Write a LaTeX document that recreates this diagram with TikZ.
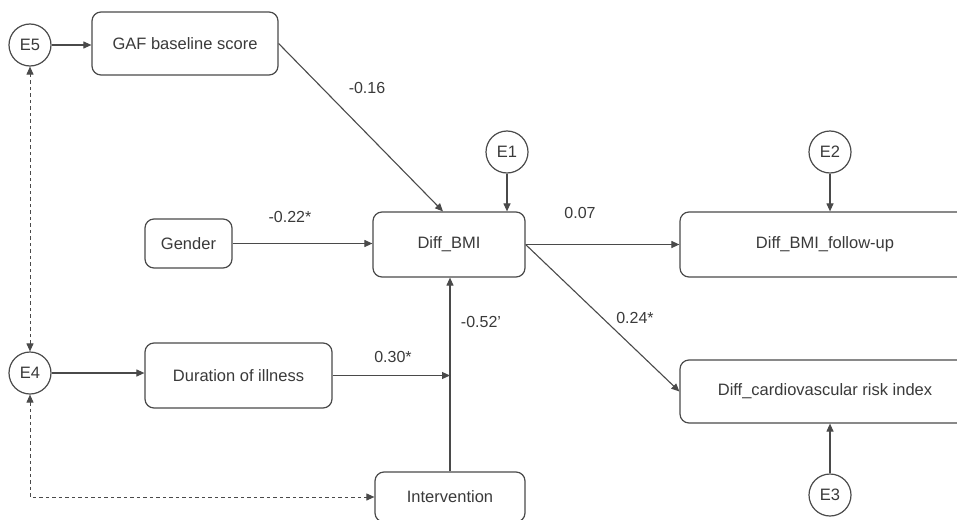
\documentclass[tikz,border=0pt]{standalone}
\usepackage{fontspec}
\setmainfont{Liberation Sans}
\usetikzlibrary{arrows.meta}
\definecolor{linec}{HTML}{4A4A4A}
\definecolor{textc}{HTML}{3A3A3A}
\begin{document}
\begin{tikzpicture}[x=1pt,y=-1pt,
  box/.style={draw=linec, line width=1.2pt, rounded corners=9pt, text=textc,
    font=\fontsize{16.5}{19}\selectfont, inner sep=0pt, anchor=center},
  err/.style={draw=linec, circle, line width=1.2pt, minimum size=42pt, inner sep=0pt,
    text=textc, font=\fontsize{16.5}{19}\selectfont},
  arr/.style={draw=linec, line width=1.1pt, -{Triangle[length=8pt,width=7pt]}},
  darr/.style={draw=linec, line width=1.0pt, dash pattern=on 3.5pt off 3pt,
    {Triangle[length=8pt,width=7pt]}-{Triangle[length=8pt,width=7pt]}},
  lbl/.style={text=textc, font=\fontsize{16}{19}\selectfont, inner sep=0pt}]
\clip (0,0) rectangle (957,519);
\fill[white] (0,0) rectangle (957,519);

% boxes
\node[box, minimum width=186pt, minimum height=63pt] (gaf) at (185,43.5) {GAF baseline score};
\node[box, minimum width=87pt, minimum height=49pt] (gender) at (188.5,243.5) {Gender};
\node[box, minimum width=152pt, minimum height=65pt] (bmi) at (449,244.5) {Diff\_BMI};
\node[box, minimum width=187pt, minimum height=65pt] (dur) at (238.5,375.5) {Duration of illness};
\node[box, minimum width=150pt, minimum height=50pt] (int) at (450,497) {Intervention};
\node[box, minimum width=290pt, minimum height=65pt] (fup) at (825,244.5) {Diff\_BMI\_follow-up};
\node[box, minimum width=290pt, minimum height=63pt] (cvr) at (825,391.5) {Diff\_cardiovascular risk index};

% error terms
\node[err] (e5) at (30,45) {E5};
\node[err] (e4) at (30,373) {E4};
\node[err] (e1) at (507,152) {E1};
\node[err] (e2) at (830,152) {E2};
\node[err] (e3) at (830,495) {E3};

% arrows
\draw[arr] (e5.east) -- (e5.east -| gaf.west);
\draw[arr] (gaf.east) -- ([xshift=-6pt]bmi.north);
\draw[arr] (gender.east) -- (gender.east -| bmi.west);
\draw[arr] (e1.south) -- (e1.south |- bmi.north);
\draw[arr] (bmi.east) -- (fup.west);
\draw[arr] (bmi.east) -- (cvr.west);
\draw[arr] (e2.south) -- (e2.south |- fup.north);
\draw[arr] (e3.north) -- (e3.north |- cvr.south);
\draw[arr] (e4.east) -- (e4.east -| dur.west);
\draw[arr] (dur.east) -- (int.north |- dur.east);
\draw[arr] (int.north) -- (int.north |- bmi.south);
\draw[darr] (e4.north) -- (e5.south);
\draw[darr] (e4.south) |- (int.west);

% labels
\node[lbl] (l1) at (367,88) {-0.16};
\node[lbl] (l2) at (290,217) {-0.22*};
\node[lbl] (l3) at (580,213) {0.07};
\node[lbl] (l4) at (635,318) {0.24*};
\node[lbl] (l5) at (393,357) {0.30*};
\node[lbl] (l6) at (481,322) {-0.52'};
\end{tikzpicture}
\end{document}
